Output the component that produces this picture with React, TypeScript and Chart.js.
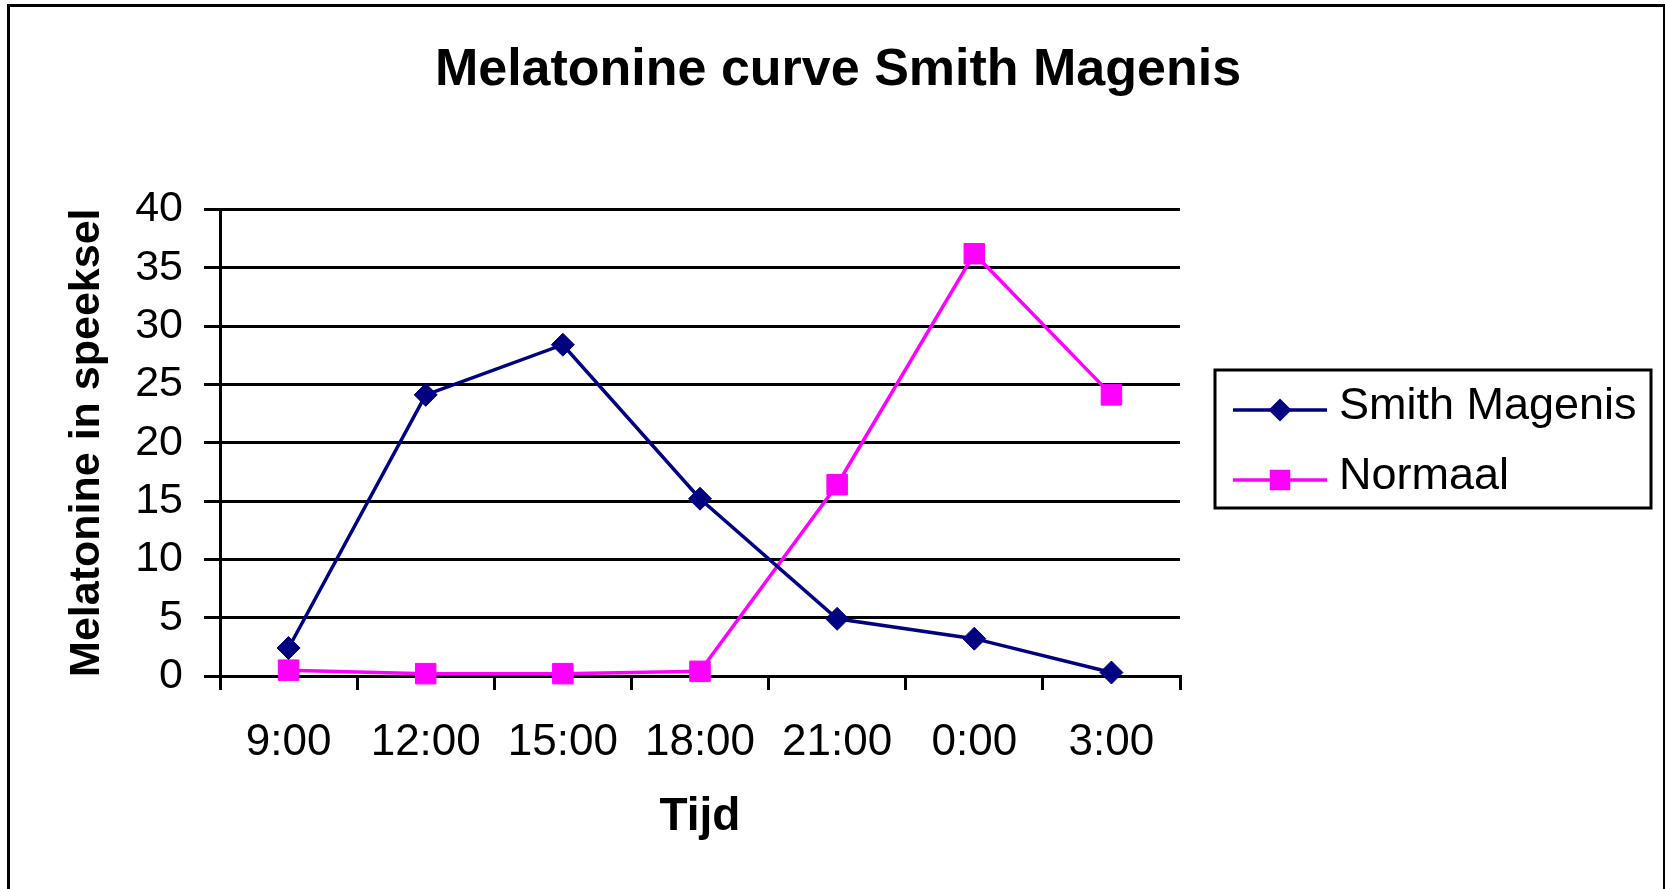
import { useEffect, useRef } from 'react';
import { Chart, registerables } from 'chart.js';

Chart.register(...registerables);

const FONT = "'Liberation Sans', Arial, Helvetica, sans-serif";

const categories = ['9:00', '12:00', '15:00', '18:00', '21:00', '0:00', '3:00'];
const smithMagenis = [2.4, 24.1, 28.4, 15.2, 4.9, 3.2, 0.3];
const normaal = [0.5, 0.2, 0.2, 0.4, 16.4, 36.2, 24.1];
const seriesNames = ['Smith Magenis', 'Normaal'];
const seriesColors = ['#000080', '#FF00FF'];
const yMin = 0;
const yMax = 40;
const yStep = 5;
const chartTitle = 'Melatonine curve Smith Magenis';
const xTitle = 'Tijd';
const yTitle = 'Melatonine in speeksel';

const boxLegend = {
  id: 'boxLegend',
  afterDraw(chart: any) {
    const ctx = chart.ctx as CanvasRenderingContext2D;
    ctx.save();
    ctx.lineWidth = 3;
    ctx.strokeStyle = '#000';
    ctx.strokeRect(1215, 370, 436, 138);
    chart.data.datasets.forEach((ds: any, i: number) => {
      const y = 410 + i * 70;
      ctx.strokeStyle = ds.borderColor;
      ctx.lineWidth = ds.borderWidth;
      ctx.beginPath();
      ctx.moveTo(1233, y);
      ctx.lineTo(1327, y);
      ctx.stroke();
      const cx = 1280;
      const r = ds.pointRadius;
      ctx.fillStyle = ds.pointBackgroundColor;
      ctx.beginPath();
      if (ds.pointStyle === 'rectRot') {
        ctx.moveTo(cx - r, y);
        ctx.lineTo(cx, y - r);
        ctx.lineTo(cx + r, y);
        ctx.lineTo(cx, y + r);
        ctx.closePath();
      } else {
        const h = r * Math.SQRT1_2;
        ctx.rect(cx - h, y - h, 2 * h, 2 * h);
      }
      ctx.fill();
      ctx.fillStyle = '#000';
      ctx.font = `45px ${FONT}`;
      ctx.textAlign = 'left';
      ctx.textBaseline = 'middle';
      ctx.fillText(ds.label, 1339, y - 3);
    });
    ctx.restore();
  },
};

export default function App() {
  const ref = useRef<HTMLCanvasElement | null>(null);

  useEffect(() => {
    if (!ref.current) return;
    Chart.defaults.font.family = FONT;
    const chart = new Chart(ref.current, {
      type: 'line',
      data: {
        labels: categories,
        datasets: [
          {
            label: seriesNames[0],
            data: smithMagenis,
            borderColor: seriesColors[0],
            backgroundColor: seriesColors[0],
            borderWidth: 3.5,
            pointStyle: 'rectRot',
            pointRadius: 11.5,
            pointBackgroundColor: seriesColors[0],
            pointBorderColor: seriesColors[0],
            pointBorderWidth: 1,
            tension: 0,
            clip: false,
          } as any,
          {
            label: seriesNames[1],
            data: normaal,
            borderColor: seriesColors[1],
            backgroundColor: seriesColors[1],
            borderWidth: 3.5,
            pointStyle: 'rect',
            pointRadius: 14.5,
            pointBackgroundColor: seriesColors[1],
            pointBorderColor: seriesColors[1],
            pointBorderWidth: 1,
            tension: 0,
            clip: false,
          } as any,
        ],
      },
      options: {
        responsive: false,
        animation: false,
        devicePixelRatio: 1,
        layout: { padding: { left: 11, top: 0, right: 0, bottom: 0 } },
        plugins: {
          legend: { display: false },
          tooltip: { enabled: false },
          title: {
            display: true,
            text: chartTitle,
            color: '#000',
            font: { family: FONT, size: 52, weight: 'bold' },
            padding: { top: 39, bottom: 108 },
          },
        },
        scales: {
          x: {
            type: 'category',
            offset: true,
            grid: {
              display: true,
              offset: true,
              drawOnChartArea: false,
              drawTicks: true,
              tickLength: 14,
              color: '#000',
              lineWidth: 3,
            },
            border: { display: true, color: '#000', width: 3 },
            ticks: {
              color: '#000',
              font: { family: FONT, size: 44 },
              padding: 26,
              maxRotation: 0,
              autoSkip: false,
            },
            title: {
              display: true,
              text: xTitle,
              color: '#000',
              font: { family: FONT, size: 46, weight: 'bold' },
              padding: { top: 0, bottom: 44 },
            },
            afterFit: (s: any) => {
              s.height = 213;
            },
          },
          y: {
            min: yMin,
            max: yMax,
            ticks: {
              stepSize: yStep,
              color: '#000',
              font: { family: FONT, size: 43 },
              padding: 21,
            },
            grid: { color: '#000', lineWidth: 3, tickLength: 16, drawTicks: true },
            border: { display: true, color: '#000', width: 3 },
            title: {
              display: true,
              text: yTitle,
              color: '#000',
              font: { family: FONT, size: 43, weight: 'bold' },
              padding: { top: 50, bottom: 0 },
            },
            afterFit: (s: any) => {
              s.width = 209;
            },
          },
          y2: {
            position: 'right',
            display: true,
            grid: { display: false, drawTicks: false },
            ticks: { display: false },
            border: { display: false },
            afterFit: (s: any) => {
              s.width = 485;
            },
          },
        },
      } as any,
      plugins: [boxLegend],
    });
    return () => chart.destroy();
  }, []);

  return (
    <div
      style={{
        position: 'fixed',
        left: 0,
        top: 0,
        width: 1665,
        height: 889,
        overflow: 'hidden',
        background: '#fff',
      }}
    >
      <canvas
        ref={ref}
        width={1665}
        height={889}
        style={{ position: 'absolute', left: 0, top: 0, width: 1665, height: 889 }}
      />
      <div
        style={{
          position: 'absolute',
          left: 7,
          top: 4,
          width: 1658,
          height: 1000,
          boxSizing: 'border-box',
          borderLeft: '3px solid #000',
          borderTop: '3px solid #000',
          borderRight: '2px solid #000',
          pointerEvents: 'none',
        }}
      />
    </div>
  );
}
